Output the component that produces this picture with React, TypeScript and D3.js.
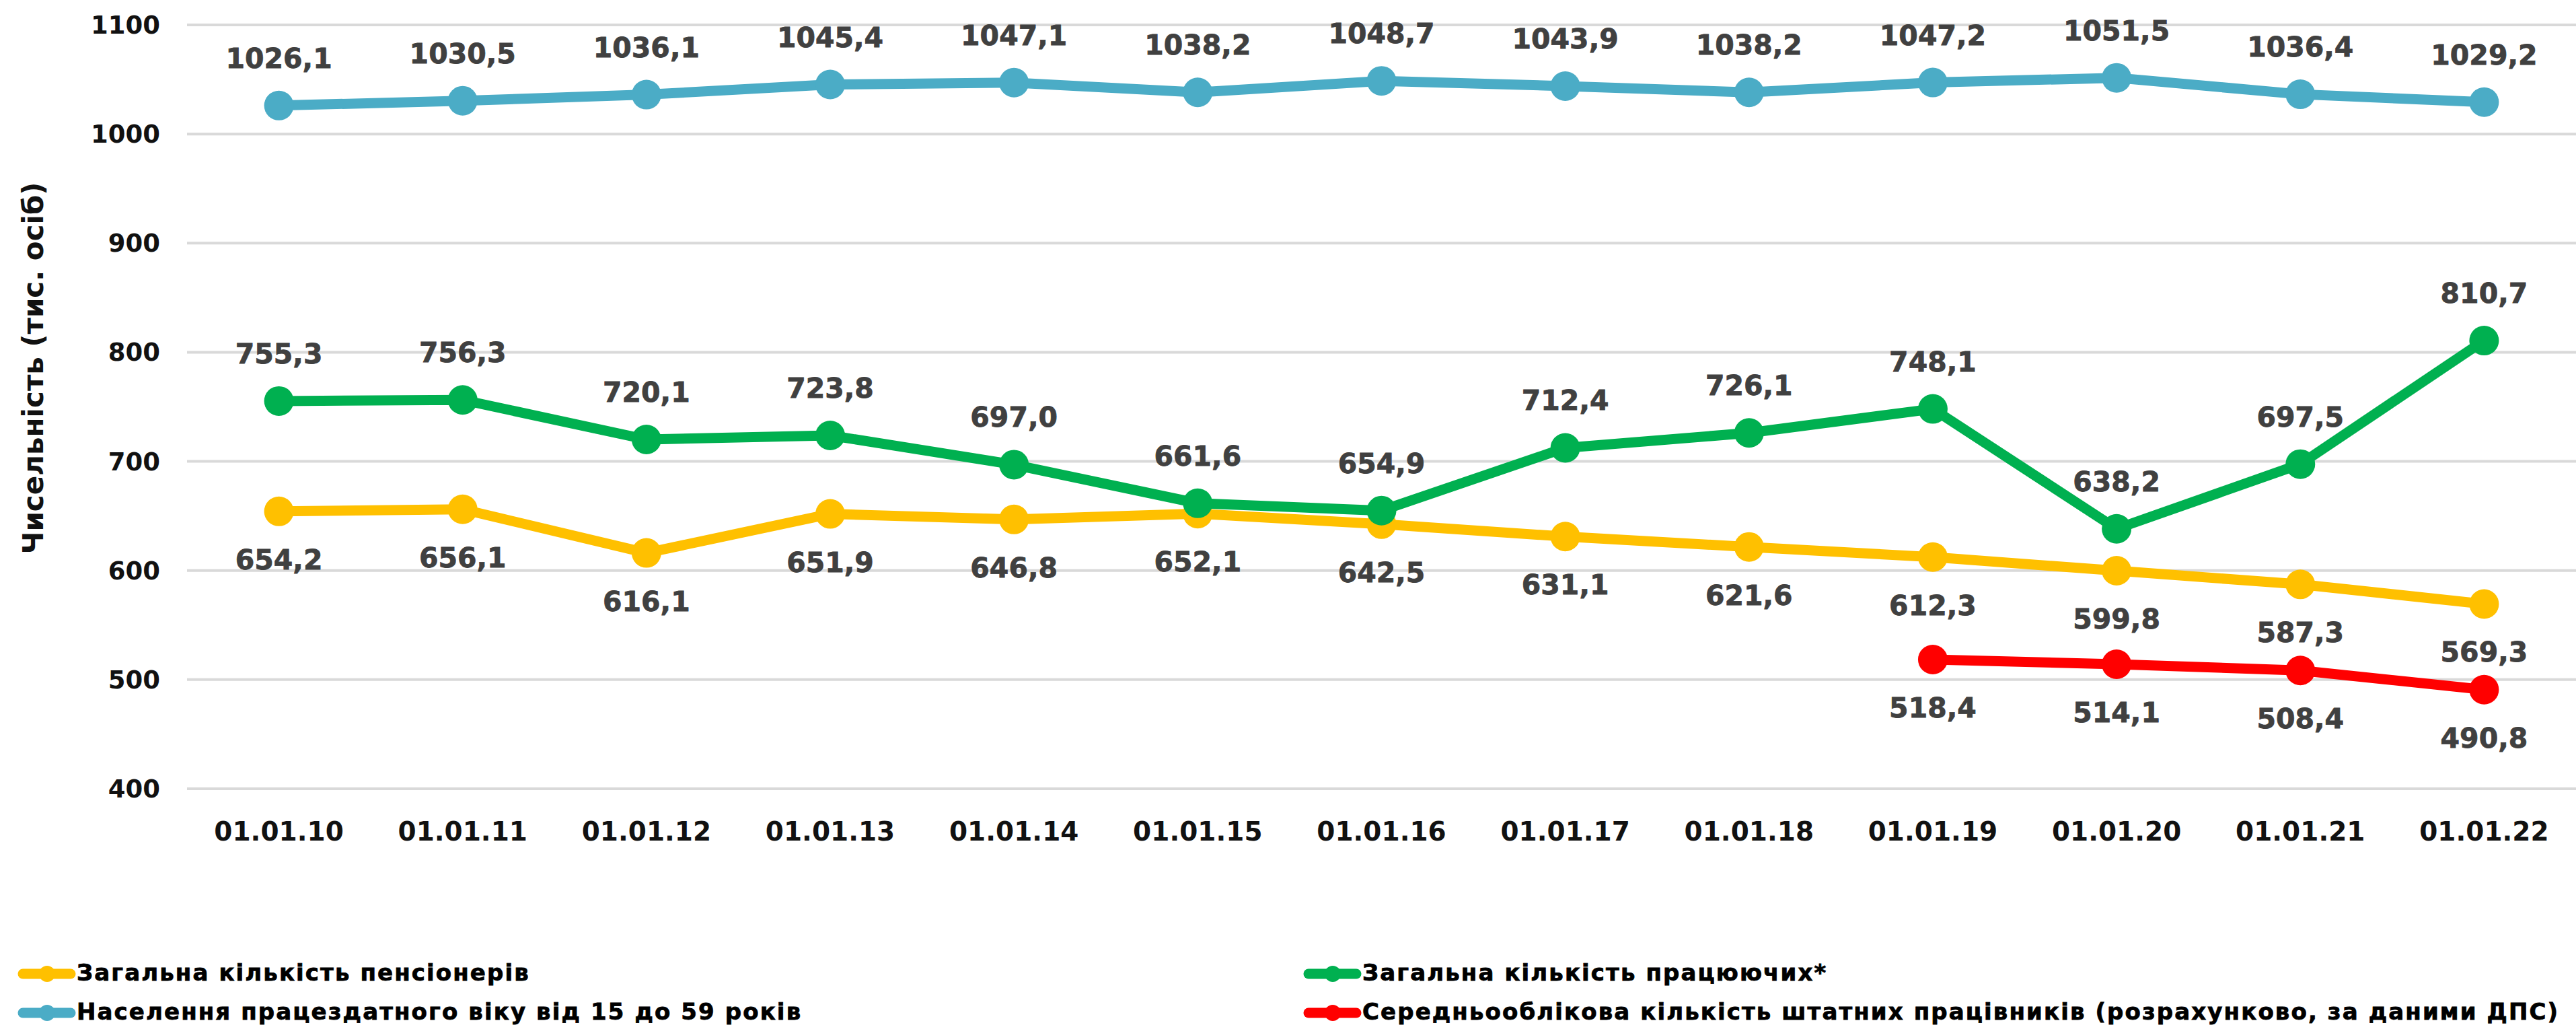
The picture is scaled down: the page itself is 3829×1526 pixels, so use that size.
import React, { useRef, useEffect } from 'react';
import * as d3 from 'd3';

// Categories (dates)
const dates = [
  '01.01.10', '01.01.11', '01.01.12', '01.01.13', '01.01.14', '01.01.15', '01.01.16',
  '01.01.17', '01.01.18', '01.01.19', '01.01.20', '01.01.21', '01.01.22',
];

// Series values (тис. осіб)
const pensioners = [654.2, 656.1, 616.1, 651.9, 646.8, 652.1, 642.5, 631.1, 621.6, 612.3, 599.8, 587.3, 569.3];
const employedTotal = [755.3, 756.3, 720.1, 723.8, 697.0, 661.6, 654.9, 712.4, 726.1, 748.1, 638.2, 697.5, 810.7];
const workingAgePop = [1026.1, 1030.5, 1036.1, 1045.4, 1047.1, 1038.2, 1048.7, 1043.9, 1038.2, 1047.2, 1051.5, 1036.4, 1029.2];
const staffAverage: (number | null)[] = [null, null, null, null, null, null, null, null, null, 518.4, 514.1, 508.4, 490.8];

const yTicks = [400, 500, 600, 700, 800, 900, 1000, 1100];

const seriesNames = [
  'Загальна кількість пенсіонерів',
  'Загальна кількість працюючих*',
  'Населення працездатного віку від 15 до 59 років',
  'Середньооблікова кількість штатних працівників (розрахунково, за даними ДПС)',
];

const W = 3829;
const H = 1526;
const FONT = '"DejaVu Sans", Verdana, sans-serif';

const App = () => {
  const ref = useRef<SVGSVGElement | null>(null);

  useEffect(() => {
    document.body.style.margin = '0';
    if (!ref.current) return;
    const svg = d3.select(ref.current);
    svg.selectAll('*').remove();

    const plot = { left: 278, right: 3829, top: 37, bottom: 1172 };

    const x = d3.scalePoint<string>().domain(dates).range([plot.left, plot.right]).padding(0.5);
    const y = d3.scaleLinear().domain([400, 1100]).range([plot.bottom, plot.top]);

    const series = [
      { name: seriesNames[0], values: pensioners as (number | null)[], color: '#FFC000', above: false },
      { name: seriesNames[1], values: employedTotal as (number | null)[], color: '#00B050', above: true },
      { name: seriesNames[2], values: workingAgePop as (number | null)[], color: '#4BACC6', above: true },
      { name: seriesNames[3], values: staffAverage, color: '#FF0000', above: false },
    ];

    svg.append('rect').attr('width', W).attr('height', H).attr('fill', '#ffffff');

    // Gridlines
    svg.append('g')
      .selectAll('line')
      .data(yTicks)
      .enter()
      .append('line')
      .attr('x1', plot.left)
      .attr('x2', plot.right)
      .attr('y1', d => y(d))
      .attr('y2', d => y(d))
      .attr('stroke', '#d9d9d9')
      .attr('stroke-width', 4);

    // Y tick labels
    svg.append('g')
      .selectAll('text')
      .data(yTicks)
      .enter()
      .append('text')
      .attr('x', 238)
      .attr('y', d => y(d) + 13)
      .attr('text-anchor', 'end')
      .attr('font-family', FONT)
      .attr('font-weight', 'bold')
      .attr('font-size', 37)
      .attr('fill', '#111')
      .text(d => d);

    // Y axis title
    svg.append('text')
      .attr('transform', 'translate(64,547) rotate(-90)')
      .attr('text-anchor', 'middle')
      .attr('font-family', FONT)
      .attr('font-weight', 'bold')
      .attr('font-size', 42)
      .attr('fill', '#111')
      .text('Чисельність (тис. осіб)');

    // X labels
    svg.append('g')
      .selectAll('text')
      .data(dates)
      .enter()
      .append('text')
      .attr('x', d => x(d)!)
      .attr('y', 1249)
      .attr('text-anchor', 'middle')
      .attr('font-family', FONT)
      .attr('font-weight', 'bold')
      .attr('font-size', 39)
      .attr('fill', '#111')
      .text(d => d);

    const line = d3.line<number | null>()
      .defined(d => d != null)
      .x((_, i) => x(dates[i])!)
      .y(d => y(d as number));

    // Lines and markers
    series.forEach(s => {
      svg.append('path')
        .datum(s.values)
        .attr('fill', 'none')
        .attr('stroke', s.color)
        .attr('stroke-width', 15)
        .attr('stroke-linejoin', 'round')
        .attr('d', line);

      const pts = s.values.map((v, i) => ({ v, d: dates[i] })).filter(p => p.v != null);
      svg.append('g')
        .selectAll('circle')
        .data(pts)
        .enter()
        .append('circle')
        .attr('cx', p => x(p.d)!)
        .attr('cy', p => y(p.v as number))
        .attr('r', 22)
        .attr('fill', s.color);
    });

    // Data labels
    const fmt = (v: number) => v.toFixed(1).replace('.', ',');
    series.forEach(s => {
      const pts = s.values.map((v, i) => ({ v, d: dates[i] })).filter(p => p.v != null);
      svg.append('g')
        .selectAll('text')
        .data(pts)
        .enter()
        .append('text')
        .attr('x', p => x(p.d)!)
        .attr('y', p => y(p.v as number) + (s.above ? -71 : 71) + 15)
        .attr('text-anchor', 'middle')
        .attr('font-family', FONT)
        .attr('font-weight', 'bold')
        .attr('font-size', 41)
        .attr('fill', '#404040')
        .attr('stroke', '#404040')
        .attr('stroke-width', 0.8)
        .text(p => fmt(p.v as number));
    });

    // Legend (2 columns, row-major)
    const legendPos = [
      { x: 27, y: 1447 },
      { x: 1938, y: 1447 },
      { x: 27, y: 1505 },
      { x: 1938, y: 1505 },
    ];
    series.forEach((s, i) => {
      const p = legendPos[i];
      const g = svg.append('g').attr('transform', `translate(${p.x},${p.y})`);
      g.append('line')
        .attr('x1', 7).attr('x2', 78)
        .attr('y1', 0).attr('y2', 0)
        .attr('stroke', s.color)
        .attr('stroke-width', 15)
        .attr('stroke-linecap', 'round');
      g.append('circle').attr('cx', 43).attr('cy', 0).attr('r', 12).attr('fill', s.color);
      g.append('text')
        .attr('x', 87)
        .attr('y', 10)
        .attr('font-family', FONT)
        .attr('font-weight', 'bold')
        .attr('font-size', 34)
        .attr('letter-spacing', 2.1)
        .attr('fill', '#000')
        .attr('stroke', '#000')
        .attr('stroke-width', 0.8)
        .text(s.name);
    });
  }, []);

  return <svg ref={ref} width={W} height={H} style={{ display: 'block' }} />;
};

export default App;
